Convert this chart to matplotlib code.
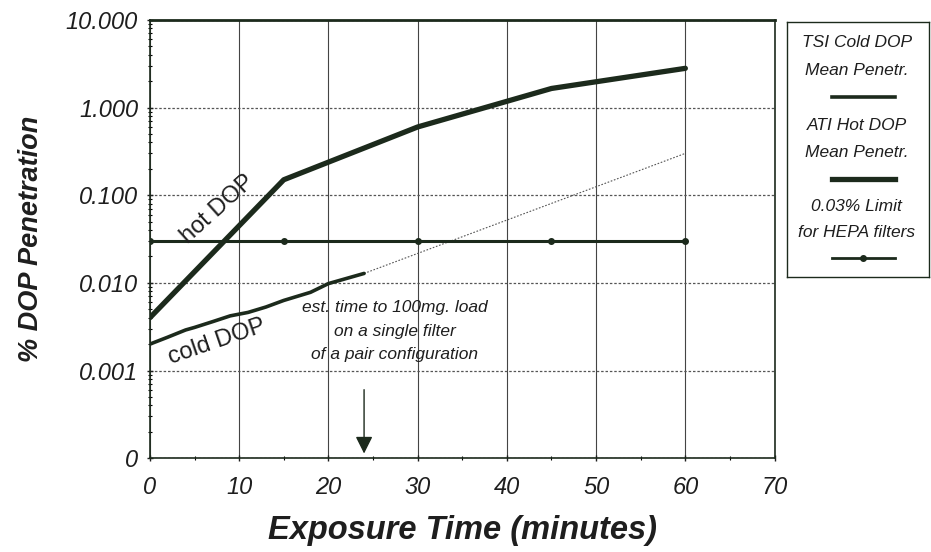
import numpy as np
import matplotlib.pyplot as plt
from matplotlib.lines import Line2D

plt.rcParams['font.family'] = ['Liberation Sans', 'DejaVu Sans']

# dados
hot_t = [0, 15, 30, 45, 60]
hot_pen = [0.004, 0.15, 0.6, 1.65, 2.8]

cold_t = [0, 2, 4, 5, 7, 9, 11, 13, 15, 18, 20, 22, 24]
cold_pen = [0.002, 0.0024, 0.0029, 0.0031, 0.0036, 0.0042, 0.0046, 0.0053, 0.0063, 0.0078, 0.0098, 0.0112, 0.0128]

est_t = [24, 60]
est_pen = [0.0128, 0.3]

lim_t = [0, 15, 30, 45, 60]
lim_pen = [0.03, 0.03, 0.03, 0.03, 0.03]

yticks = [0.0001, 0.001, 0.01, 0.1, 1, 10]
ylabels = ['0', '0.001', '0.010', '0.100', '1.000', '10.000']
xticks = [0, 10, 20, 30, 40, 50, 60, 70]

cor = '#1c2a1c'
txt = '#1e1e1e'

fig = plt.figure(figsize=(9.31, 5.52), dpi=100)
ax = fig.add_axes([0.161, 0.170, 0.671, 0.794])

ax.plot(hot_t, hot_pen, color=cor, lw=3.8, solid_capstyle='round', zorder=4)
ax.plot(cold_t, cold_pen, color=cor, lw=2.6, solid_capstyle='round', zorder=4)
ax.plot(est_t, est_pen, color='#555555', lw=0.8, ls=(0, (1.5, 1.5)), zorder=3)
ax.plot(lim_t, lim_pen, color=cor, lw=2.2, marker='o', ms=4, zorder=4)

ax.set_yscale('log')
ax.set_ylim(0.0001, 10)
ax.set_xlim(0, 70)
ax.set_yticks(yticks)
ax.set_yticklabels(ylabels)
ax.set_xticks(xticks)
ax.set_xticks(np.arange(5, 70, 10), minor=True)
ax.tick_params(axis='both', labelsize=17, colors=txt, length=5, width=1, direction='inout')
ax.tick_params(axis='both', which='minor', length=3, width=0.8, direction='inout')
for lab in ax.get_xticklabels() + ax.get_yticklabels():
    lab.set_fontstyle('italic')
ax.tick_params(axis='x', pad=10)
ax.tick_params(axis='y', pad=6)

ax.grid(True, axis='x', which='major', color='#444444', lw=0.8)
ax.grid(True, axis='y', which='major', color='#555555', lw=0.9, ls=(0, (2, 1.5)))
for s in ax.spines.values():
    s.set_color(cor)
    s.set_linewidth(1.2)
ax.spines['top'].set_linewidth(2)

ax.set_xlabel('Exposure Time (minutes)', fontsize=23.5, fontweight='bold', fontstyle='italic', color=txt, labelpad=12)
ax.set_ylabel('% DOP Penetration', fontsize=19.5, fontweight='bold', fontstyle='italic', color=txt, labelpad=16)

ax.text(7.6, 0.07, 'hot DOP', rotation=42, fontsize=17, color=txt, ha='center', va='center', zorder=5)
ax.text(7.5, 0.0021, 'cold DOP', rotation=19, fontsize=17, color=txt, ha='center', va='center', zorder=5)
ax.text(27.4, 0.0028, 'est. time to 100mg. load\non a single filter\nof a pair configuration',
        fontsize=12.5, fontstyle='italic', color=txt, ha='center', va='center', linespacing=1.7, zorder=5)
ax.annotate('', xy=(24, 0.000105), xytext=(24, 0.00065),
            arrowprops=dict(arrowstyle='-|>', color=cor, lw=1, mutation_scale=26))

# caixa da legenda
lg = fig.add_axes([0.845, 0.498, 0.1525, 0.462])
lg.set_xlim(0, 1)
lg.set_ylim(0, 1)
lg.set_xticks([])
lg.set_yticks([])
for s in lg.spines.values():
    s.set_color(cor)
    s.set_linewidth(1)
ls_txt = dict(fontsize=12.5, fontstyle='italic', color=txt, ha='center', va='center')
lg.text(0.493, 0.918, 'TSI Cold DOP', **ls_txt)
lg.text(0.493, 0.812, 'Mean Penetr.', **ls_txt)
lg.add_line(Line2D([0.317, 0.761], [0.706, 0.706], color=cor, lw=2.6))
lg.text(0.493, 0.596, 'ATI Hot DOP', **ls_txt)
lg.text(0.493, 0.49, 'Mean Penetr.', **ls_txt)
lg.add_line(Line2D([0.317, 0.761], [0.384, 0.384], color=cor, lw=3.8))
lg.text(0.493, 0.275, '0.03% Limit', **ls_txt)
lg.text(0.493, 0.173, 'for HEPA filters', **ls_txt)
lg.add_line(Line2D([0.317, 0.54, 0.761], [0.075, 0.075, 0.075], color=cor, lw=2, marker='o', markevery=[1], ms=4))

fig.savefig('out.png', dpi=100)
